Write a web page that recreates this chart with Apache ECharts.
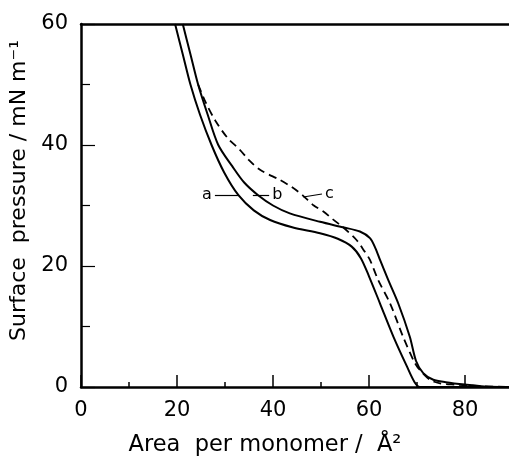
<!DOCTYPE html>
<html>
<head>
<meta charset="utf-8">
<script src="https://cdn.jsdelivr.net/npm/echarts@6/dist/echarts.min.js"></script>
<style>
html,body{margin:0;padding:0;background:#fff;}
#c{width:509px;height:463px;}
</style>
</head>
<body>
<div id="c"></div>
<script>
// Surface pressure isotherms (x: area per monomer / Å², y: surface pressure / mN m-1)
const curveA = [[19.6,60],[21.2,55],[22.8,50],[24.8,45],[27.2,40],[29.8,35.5],[32.8,31.7],[36,29.2],[39.4,27.6],[44,26.4],[49.8,25.4],[53.5,24.5],[56.4,23.2],[58.3,21.3],[60,18.3],[62.3,13.8],[65.1,8.3],[67.9,3.4],[69.5,0.8],[70.6,0],[90,0]];
const curveB = [[21.2,60],[22.8,55],[24.4,50],[26.4,45],[28.6,40],[31.5,36.5],[34,33.8],[36.9,31.7],[40,30],[43.5,28.7],[49.8,27.3],[54.6,26.4],[58.1,25.7],[60.2,24.6],[61.3,23],[62.3,21],[64,17.7],[66.1,13.8],[68.5,8.3],[69.8,4.3],[71.3,2.3],[73.4,1.2],[76,0.8],[80,0.4],[84,0.1],[90,0]];
const curveC = [[24.4,50],[26,47],[28,44],[30.5,41.2],[33.1,39.2],[35,37.5],[37.3,35.9],[41.5,34.2],[44,33],[46.3,31.6],[48.5,30],[50.5,29],[52.5,27.7],[54.6,26.4],[57.4,24.3],[59,22.5],[60.2,21],[61.9,17.7],[64.4,13.8],[67.1,8.3],[69.4,4.2],[70.6,2.8],[72.7,1.2],[74.8,0.6],[78,0.4],[84,0.1],[90,0]];
const curveNames = ['a','b','c'];
const xTicks = [0,20,40,60,80];
const yTicks = [0,20,40,60];
// label leaders (data coords)
const leaderA = [[27.9,31.7],[32.7,31.7]];
const leaderB = [[35.8,31.7],[39.2,31.7]];
const leaderC = [[46.3,31.4],[50.2,31.9]];

const font = 'DejaVu Sans';
const chart = echarts.init(document.getElementById('c'), null, {renderer:'canvas'});

function leader(pts, name, pos){
  return {
    silent:true, symbol:['none','none'], animation:false,
    lineStyle:{color:'#000', width:1.2, type:'solid'},
    label:{show:true, formatter:name, position:pos, color:'#000', fontSize:16, fontFamily:font, distance:3},
    data:[[{coord:pts[0]},{coord:pts[1]}]]
  };
}

chart.setOption({
  animation:false,
  backgroundColor:'#fff',
  grid:{left:81, width:432, top:24, bottom:76, containLabel:false, outerBoundsMode:'none'},
  xAxis:[{
    type:'value', min:0, max:90, interval:20,
    name:'Area  per monomer /  Å²', nameLocation:'middle', nameGap:47,
    nameTextStyle:{color:'#000', fontSize:22.5, fontFamily:font, padding:[0,64,0,0]},
    axisLine:{show:true, onZero:false, lineStyle:{color:'#000', width:2.5}},
    axisTick:{show:true, inside:true, length:12, lineStyle:{color:'#000', width:1.5}},
    minorTick:{show:true, splitNumber:2, length:5, lineStyle:{color:'#000', width:1.5}},
    axisLabel:{color:'#000', fontSize:21, fontFamily:font, margin:13,
      formatter:v => xTicks.includes(v) ? String(v) : ''},
    splitLine:{show:false}
  },{
    type:'value', min:0, max:90, position:'top',
    axisLine:{show:true, onZero:false, lineStyle:{color:'#000', width:2.5}},
    axisTick:{show:false}, axisLabel:{show:false}, splitLine:{show:false}
  }],
  yAxis:{
    type:'value', min:0, max:60, interval:20,
    name:'Surface  pressure / mN m⁻¹', nameLocation:'middle', nameGap:50,
    nameTextStyle:{color:'#000', fontSize:22, fontFamily:font, padding:[0,0,0,30]},
    axisLine:{show:true, onZero:false, lineStyle:{color:'#000', width:2.5}},
    axisTick:{show:true, inside:true, length:14, lineStyle:{color:'#000', width:1.2}},
    minorTick:{show:true, splitNumber:2, length:9, lineStyle:{color:'#000', width:1.2}},
    axisLabel:{color:'#000', fontSize:21, fontFamily:font, margin:13,
      formatter:v => yTicks.includes(v) ? String(v) : ''},
    splitLine:{show:false}
  },
  series:[
    {name:curveNames[0], type:'line', data:curveA, smooth:0.3, showSymbol:false, symbol:'none',
     lineStyle:{color:'#000', width:2}, clip:true, markLine:leader(leaderA,'a','start')},
    {name:curveNames[1], type:'line', data:curveB, smooth:0.3, showSymbol:false, symbol:'none',
     lineStyle:{color:'#000', width:2}, clip:true, markLine:leader(leaderB,'b','end')},
    {name:curveNames[2], type:'line', data:curveC, smooth:0.3, showSymbol:false, symbol:'none',
     lineStyle:{color:'#000', width:1.8, type:[8,5]}, clip:true, markLine:leader(leaderC,'c','end')}
  ]
});
</script>
</body>
</html>
